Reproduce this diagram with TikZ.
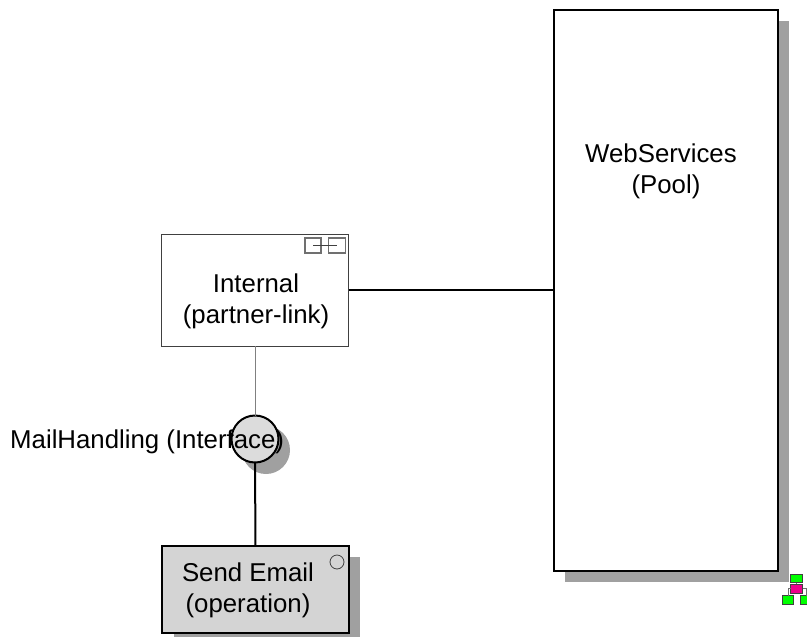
\documentclass[tikz,border=0pt]{standalone}
\usepackage{fontspec}
\setmainfont{Liberation Sans}
\tikzset{
  px/.style={x=1pt,y=-1pt},
  lbl/.style={font=\fontsize{25.8}{31}\selectfont,align=center,text=black,inner sep=0pt},
  boxn/.style={draw=#1,rectangle,inner sep=0pt,outer sep=0pt},
  shad/.style={fill=shadowgray,draw=none},
  conn/.style={draw=black,line width=2pt},
  thin conn/.style={draw=linegray,line width=1pt},
  org/.style={draw=iconline,line width=0.9pt,inner sep=0pt,outer sep=0pt,rectangle,anchor=north west},
  orgline/.style={draw=orglink,line width=1pt}
}
\definecolor{shadowgray}{HTML}{A0A0A0}
\definecolor{linegray}{HTML}{808080}
\definecolor{boxline}{HTML}{404040}
\definecolor{iconline}{HTML}{404040}
\definecolor{orglink}{HTML}{707070}
\definecolor{fillgray}{HTML}{D4D4D4}
\definecolor{circgray}{HTML}{DCDCDC}
\begin{document}
\begin{tikzpicture}[px]
\useasboundingbox (0,0) rectangle (807,638);
% shadows
\fill[shad] (565,21) rectangle (789,582);
\fill[shad] (174,557) rectangle (360,637);
\fill[shad] (266,450) circle (24);
% pool
\node[boxn=black,line width=2pt,fill=white,minimum width=224pt,minimum height=561pt,anchor=north west] (pool) at (554,10) {};
% partner link
\node[boxn=boxline,line width=1pt,fill=white,minimum width=187pt,minimum height=112pt,anchor=north west] (link) at (161.5,234) {};
% connectors
\node[circle,draw=black,line width=2pt,fill=circgray,minimum size=47pt,inner sep=0pt,outer sep=0pt] (iface) at (255,439) {};
\node[boxn=black,line width=2pt,fill=fillgray,minimum width=187pt,minimum height=87pt,anchor=north west] (op) at (162,545.5) {};
\coordinate (linkr) at (link.east |- 0,289.5);
\draw[conn] (linkr) -- (pool.west |- linkr);
\draw[thin conn] (link.south) -- (iface.north);
\draw[conn] (iface.south) -- (op.north);
% partner-link icon
\node[boxn=orglink,line width=1.2pt,minimum width=16pt,minimum height=15pt,anchor=north west] (pa) at (305,238) {};
\node[boxn=orglink,line width=1.2pt,minimum width=17pt,minimum height=15pt,anchor=north west] (pb) at (328.5,238) {};
\draw[boxline,line width=1pt] (pa.center) -- (pb.center);
% operation marker
\node[circle,draw=boxline,line width=0.8pt,fill=fillgray,minimum size=14pt,inner sep=0pt] (mark) at (337,562) {};
% labels
\node[lbl] (t1) at (663.5,171) {\hspace*{-5pt}WebServices\\\hspace*{5pt}(Pool)};
\node[lbl] (t2) at (256,301.5) {Internal\\(partner-link)};
\node[lbl,anchor=west] (t3) at (10,441.5) {MailHandling (Interface)};
\node[lbl] (t4) at (248,590.5) {Send Email\\(operation)};
% org icon
\node[org,fill=green,minimum width=12pt,minimum height=8pt] (o1) at (790.5,574.5) {};
\node[org,fill=magenta,minimum width=12pt,minimum height=9.5pt] (o2) at (790.5,584) {};
\node[org,fill=green,minimum width=11pt,minimum height=9pt] (o3) at (782.5,595.5) {};
\node[org,fill=green,minimum width=11pt,minimum height=9pt] (o4) at (800.5,595.5) {};
\draw[orgline] (o1.south) -- (o2.north);
\draw[orgline] (o2.west) -| (o3.north);
\draw[orgline] (o2.east) -| (o4.north);
\end{tikzpicture}
\end{document}
